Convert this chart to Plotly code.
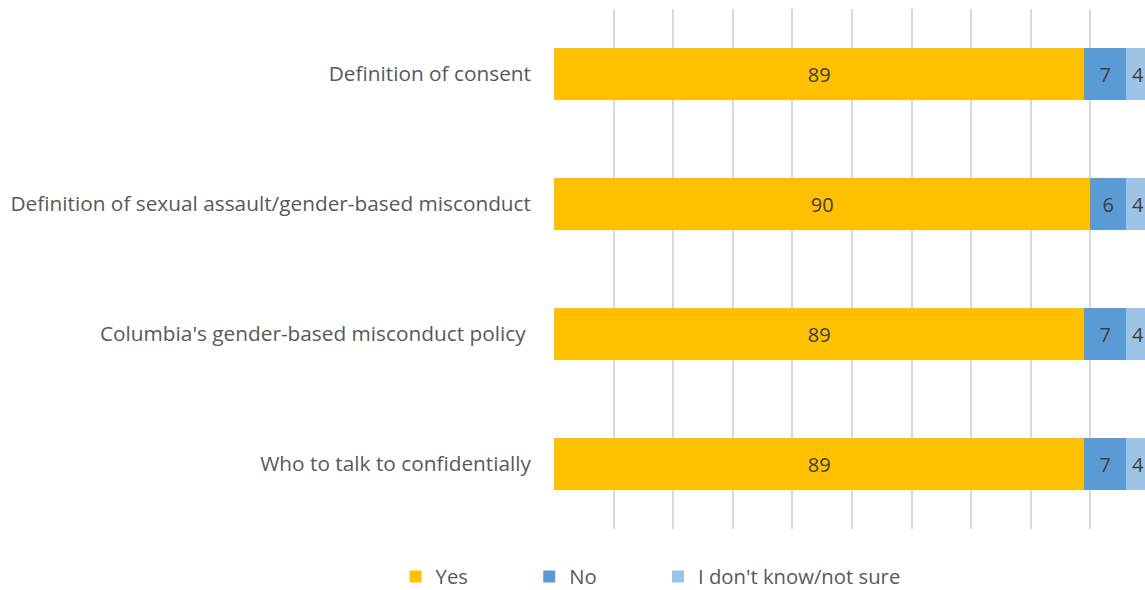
import plotly.graph_objects as go

categories = [
    "Definition of consent",
    "Definition of sexual assault/gender-based misconduct",
    "Columbia's gender-based misconduct policy ",
    "Who to talk to confidentially",
]
yes_vals = [89, 90, 89, 89]
no_vals = [7, 6, 7, 7]
dk_vals = [4, 4, 4, 4]
series_names = ["Yes", "No", "I don't know/not sure"]
colors = ["#FFC000", "#5B9BD5", "#9DC3E6"]
legend_ids = ["legend", "legend2", "legend3"]
legend_x = [-0.2658, -0.0416, 0.1745]

fig = go.Figure()
for name, vals, col, lid in zip(series_names, [yes_vals, no_vals, dk_vals], colors, legend_ids):
    fig.add_trace(go.Bar(
        y=categories, x=vals, name=name, orientation="h",
        marker=dict(color=col, line=dict(width=0)),
        text=[str(v) for v in vals], textposition="inside",
        insidetextanchor="middle",
        textfont=dict(family="Open Sans", size=20, color="#404040"),
        constraintext="none",
        cliponaxis=False,
        hoverinfo="skip",
        legend=lid,
    ))

layout_legends = {}
for lid, lx in zip(legend_ids, legend_x):
    layout_legends[lid] = dict(
        orientation="h", x=lx, xanchor="left", y=-0.092, yanchor="middle",
        font=dict(family="Open Sans", size=20.3, color="#595959"),
        itemwidth=30, bgcolor="rgba(0,0,0,0)",
    )

fig.update_layout(
    barmode="stack",
    bargap=0.6,
    width=1150, height=590,
    margin=dict(l=554, r=0, t=9, b=61, autoexpand=False),
    plot_bgcolor="white", paper_bgcolor="white",
    font=dict(family="Open Sans", size=20, color="#595959"),
    showlegend=True,
    **layout_legends,
)
fig.update_xaxes(
    range=[0, 100], dtick=10, showgrid=True, gridcolor="#d9d9d9", gridwidth=1.5,
    showticklabels=False, zeroline=False, showline=False, fixedrange=True,
)
fig.update_yaxes(
    autorange="reversed", showgrid=False, ticks="", ticklabelstandoff=22,
    showline=False, tickfont=dict(family="Open Sans", size=20.8, color="#595959"),
)
fig.write_html(
    "out.html",
    config={"displayModeBar": False},
    post_script="document.body.style.margin='0';document.body.style.overflow='hidden';",
)
